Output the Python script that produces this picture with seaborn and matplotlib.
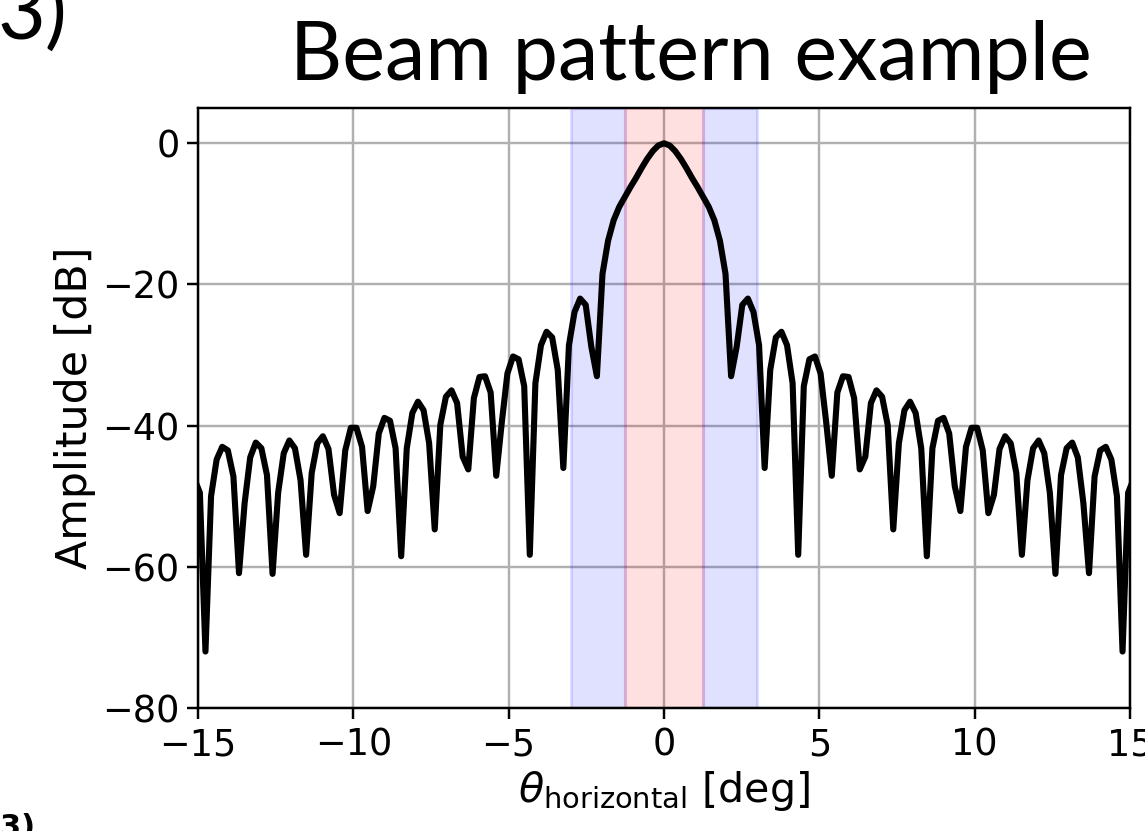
"""
Beam pattern example: amplitude vs horizontal angle with main / side lobe bands
"""
import numpy as np
import matplotlib
matplotlib.use("Agg")
import matplotlib.pyplot as plt
import seaborn as sns

# Sampling of the pattern (uniform grid in degrees)
STEP_DEG = 0.18
FIRST_INDEX = -84

# Amplitude [dB], left half k=-84..0
AMP_LEFT = [
    -47.5, -49.5, -72.0, -50.0, -44.8, -43.0, -43.5, -47.2, -60.9, -51.0,
    -44.5, -42.4, -43.2, -47.0, -61.0, -49.5, -43.9, -42.1, -43.2, -47.7,
    -58.3, -46.7, -42.5, -41.5, -43.3, -49.8, -52.4, -43.5, -40.3, -40.3,
    -43.0, -52.1, -48.6, -41.1, -38.9, -39.3, -43.2, -58.5, -43.2, -38.2,
    -36.6, -37.8, -42.5, -54.7, -39.9, -35.9, -35.0, -36.8, -44.4, -46.2,
    -36.1, -33.1, -33.0, -35.3, -47.1, -39.5, -32.6, -30.2, -30.6, -34.4,
    -58.3, -34.0, -28.6, -26.7, -27.5, -32.1, -46.0, -28.6, -23.9, -22.0,
    -22.9, -28.8, -33.0, -18.5, -13.8, -10.9, -9.0, -7.6, -6.2, -4.9,
    -3.5, -2.2, -1.1, -0.3, 0.0,
]
# Amplitude [dB], right half k=1..84
AMP_RIGHT = [
    -0.3, -1.1, -2.2, -3.5, -4.9, -6.2, -7.6, -9.0, -10.9, -13.8,
    -18.5, -33.0, -28.8, -22.9, -22.0, -23.9, -28.6, -46.0, -32.1, -27.5,
    -26.7, -28.6, -34.0, -58.3, -34.4, -30.6, -30.2, -32.6, -39.5, -47.1,
    -35.3, -33.0, -33.1, -36.1, -46.2, -44.4, -36.8, -35.0, -35.9, -39.9,
    -54.7, -42.5, -37.8, -36.6, -38.2, -43.2, -58.5, -43.2, -39.3, -38.9,
    -41.1, -48.6, -52.1, -43.0, -40.3, -40.3, -43.5, -52.4, -49.8, -43.3,
    -41.5, -42.5, -46.7, -58.3, -47.7, -43.2, -42.1, -43.9, -49.5, -61.0,
    -47.0, -43.2, -42.4, -44.5, -51.0, -60.9, -47.2, -43.5, -43.0, -44.8,
    -50.0, -72.0, -49.5, -47.5,
]

# Bands
MAIN_HALF = 1.24
SIDE_HALF = 3.0

X_TICKS = [-15, -10, -5, 0, 5, 10, 15]
Y_TICKS = [-80, -60, -40, -20, 0]

sns.set_style("ticks", {
    "axes.edgecolor": "black",
    "axes.labelcolor": "black",
    "text.color": "black",
    "xtick.color": "black",
    "ytick.color": "black",
    "grid.color": "#b0b0b0",
    "axes.grid": True,
})
plt.rcParams["font.family"] = ["DejaVu Sans"]
plt.rcParams["font.size"] = 12


def main():
    amp = AMP_LEFT + AMP_RIGHT
    theta = (np.arange(len(amp)) + FIRST_INDEX) * STEP_DEG

    fig = plt.figure(figsize=(1145 / 220, 831 / 220), dpi=220)
    ax = fig.add_axes([198 / 1145, 1 - 708 / 831, 932 / 1145, 600 / 831])

    ax.axvspan(-SIDE_HALF, -MAIN_HALF, color="blue", alpha=0.12)
    ax.axvspan(-MAIN_HALF, MAIN_HALF, color="red", alpha=0.12)
    ax.axvspan(MAIN_HALF, SIDE_HALF, color="blue", alpha=0.12)

    sns.lineplot(x=theta, y=amp, color="black", lw=2.0, ax=ax)

    ax.set_xlim(-15, 15)
    ax.set_ylim(-80, 5)
    ax.set_xticks(X_TICKS)
    ax.set_yticks(Y_TICKS)
    ax.grid(True, lw=0.8)
    for s in ax.spines.values():
        s.set_linewidth(0.8)
        s.set_color("black")
    ax.tick_params(labelsize=12, length=3.5, width=0.8, pad=2.5)

    ax.set_xlabel(r"$\theta_{\mathrm{horizontal}}$ [deg]", fontsize=13.5,
                  labelpad=2)
    ax.set_ylabel("Amplitude [dB]", fontsize=14, labelpad=2)

    fig.text(0.603, 0.904, "Beam pattern example", fontsize=26.5,
             family="Lato", ha="center", va="baseline")
    # panel labels cut off at the figure border
    fig.text(-0.002, 0.952, "3)", fontsize=27, family="Lato",
             ha="left", va="baseline")
    fig.text(0.0, 0.022, "3)", fontsize=10, weight="bold",
             family="Liberation Sans Narrow", ha="left", va="top")

    fig.savefig("out.png", dpi=220)


if __name__ == "__main__":
    main()
